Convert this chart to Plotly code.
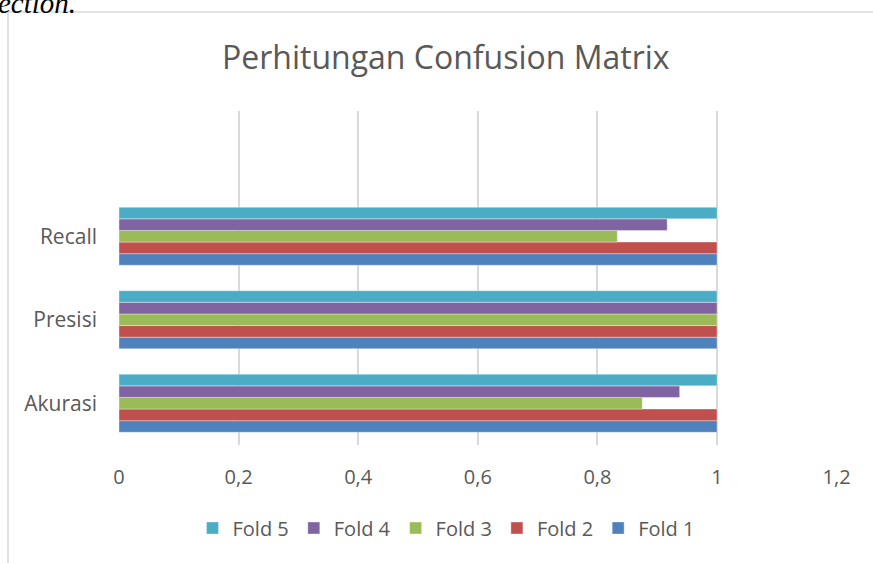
import plotly.graph_objects as go

categories = ["Akurasi", "Presisi", "Recall"]
series_names = ["Fold 1", "Fold 2", "Fold 3", "Fold 4", "Fold 5"]
values = {
    "Fold 1": [1.0, 1.0, 1.0],
    "Fold 2": [1.0, 1.0, 1.0],
    "Fold 3": [0.875, 1.0, 0.8333],
    "Fold 4": [0.9375, 1.0, 0.9167],
    "Fold 5": [1.0, 1.0, 1.0],
}
colors = {
    "Fold 1": "#4F81BD",
    "Fold 2": "#C0504D",
    "Fold 3": "#9BBB59",
    "Fold 4": "#8064A2",
    "Fold 5": "#4BACC6",
}
x_tickvals = [0, 0.2, 0.4, 0.6, 0.8, 1.0, 1.2]
x_ticktext = ["0", "0,2", "0,4", "0,6", "0,8", "1", "1,2"]

W, H = 873, 563
FONT = "Open Sans"
GREY = "#595959"

fig = go.Figure()
for name in series_names:
    fig.add_trace(go.Bar(
        name=name,
        y=list(range(len(categories))),
        x=values[name],
        orientation="h",
        marker=dict(color=colors[name], line=dict(color="rgba(255,255,255,0.6)", width=0.6)),
    ))

fig.update_layout(
    template="none",
    width=W, height=H, autosize=False,
    margin=dict(l=0, r=0, t=0, b=0, pad=0),
    paper_bgcolor="white", plot_bgcolor="white",
    barmode="group", bargap=0.305, bargroupgap=0,
    showlegend=True,
    legend=dict(orientation="h", x=446 / W, xanchor="center", y=1 - 528 / H, yanchor="middle",
                traceorder="reversed", font=dict(family=FONT, size=20, color=GREY),
                itemwidth=30, bgcolor="rgba(0,0,0,0)"),
    xaxis=dict(domain=[119 / W, 836.6 / W], range=[0, 1.2], tickvals=x_tickvals, ticktext=x_ticktext,
               showgrid=True, gridcolor="#D9D9D9", gridwidth=1.5, zeroline=False,
               showline=False, ticks="", tickfont=dict(family=FONT, size=20, color=GREY),
               ticklabelstandoff=18, anchor="y", fixedrange=True, automargin=False),
    yaxis=dict(domain=[1 - 445 / H, 1 - 111 / H], range=[-0.5, 3.5],
               tickvals=list(range(len(categories))), ticktext=categories,
               showgrid=False, zeroline=False, showline=False, ticks="",
               tickfont=dict(family=FONT, size=21, color=GREY), ticklabelstandoff=21,
               fixedrange=True, automargin=False),
    annotations=[
        dict(text="Perhitungan Confusion Matrix", x=446 / W, y=1 - 56 / H, xref="paper", yref="paper",
             xanchor="center", yanchor="middle", showarrow=False,
             font=dict(family=FONT, size=32, color=GREY)),
        dict(text="<i>ection.</i>", x=-4 / W, y=1 - 3 / H, xref="paper", yref="paper",
             xanchor="left", yanchor="middle", showarrow=False,
             font=dict(family="Liberation Serif", size=29, color="black")),
    ],
    shapes=[
        dict(type="line", xref="paper", yref="paper", x0=8 / W, x1=8 / W, y0=0, y1=1 - 12 / H,
             line=dict(color="#D9D9D9", width=1.5)),
        dict(type="line", xref="paper", yref="paper", x0=8 / W, x1=1.01, y0=1 - 12 / H, y1=1 - 12 / H,
             line=dict(color="#D9D9D9", width=1.5)),
    ],
)

fig.write_html(
    "out.html",
    config={"displayModeBar": False, "responsive": False},
    default_width="873px", default_height="563px",
    post_script="document.body.style.margin='0';document.body.style.overflow='hidden';",
)
